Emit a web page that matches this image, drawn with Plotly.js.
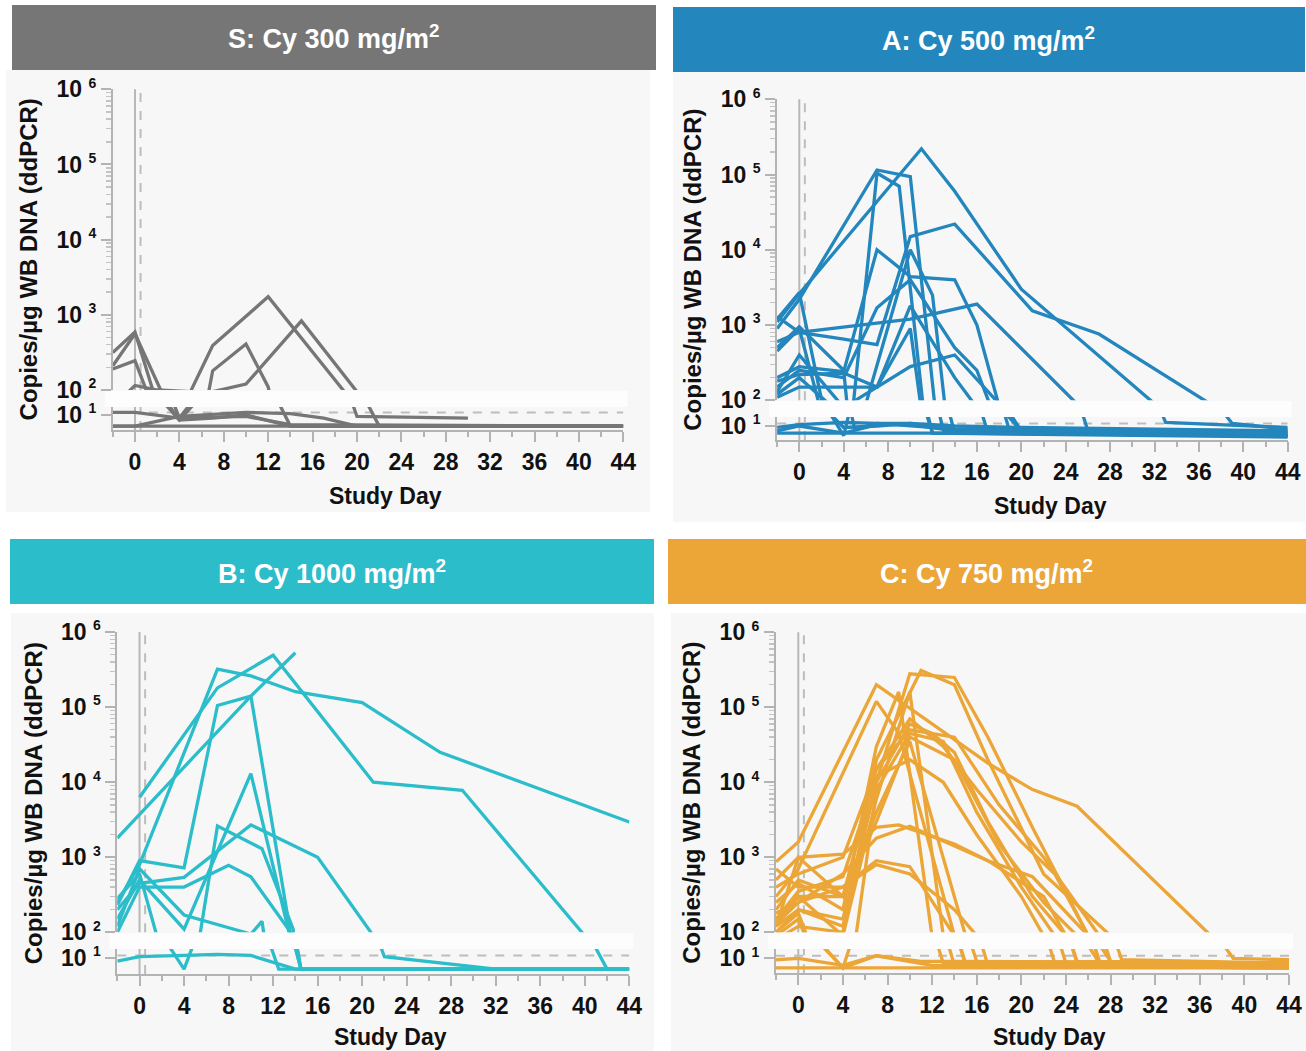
<!DOCTYPE html>
<html><head><meta charset="utf-8">
<script src="https://cdn.plot.ly/plotly-3.0.1.min.js"></script>
<style>html,body{margin:0;padding:0;background:#fff;}#chart{width:1306px;height:1051px;}</style>
</head><body><div id="chart"></div>
<script>
// ---------------- DATA ----------------
const panelTitles = ['S: Cy 300 mg/m<sup>2</sup>', 'A: Cy 500 mg/m<sup>2</sup>', 'B: Cy 1000 mg/m<sup>2</sup>', 'C: Cy 750 mg/m<sup>2</sup>'];
const panelColors = ['#767676', '#2386bd', '#2cbdcb', '#eba637'];
const xTickDays = [0, 4, 8, 12, 16, 20, 24, 28, 32, 36, 40, 44];
const upperTickVals = [100, 1000, 10000, 100000, 1000000];
const upperExps = ['2', '3', '4', '5', '6'];
const lowerTickVals = [10];
const lowerExps = ['1'];
const lloqValue = 12;
const dosingDay = 0;
const infusionDay = 0.5;
const yTitle = 'Copies/µg WB DNA (ddPCR)';
const xTitle = 'Study Day';

const S_days = [
  [-2, 0, 2, 5, 7, 12, 19, 20, 30],
  [-2, 0, 4, 7, 10, 14, 44],
  [-2, 0, 4, 6, 7, 10, 12, 14, 44],
  [-2, 0, 4, 7, 10, 15, 20, 22, 44],
  [-2, 0, 4, 8, 10, 14, 17, 20, 44],
  [-2, 44],
  [-2, 0, 3, 4, 10, 14, 44]
];
const S_vals = [
  [60, 115, 100, 95, 390, 1740, 90, 9, 8],
  [316, 590, 7, 8, 10, 4.5, 4.5],
  [12, 12, 8, 30, 180, 410, 110, 4.5, 4.5],
  [190, 245, 7, 95, 120, 830, 95, 4.5, 4.5],
  [4.5, 4.5, 9, 11, 12, 11, 8, 4.5, 4.5],
  [4.5, 4.5],
  [210, 560, 60, 8, 9, 5, 4.5]
];

const A_days = [
  [-2, 0, 11, 14, 20, 32, 33, 44],
  [-2, 0, 7, 10, 13, 44],
  [-2, 0, 4, 7, 9, 12, 44],
  [-2, 0, 4, 7, 10, 14, 16, 20, 44],
  [-2, 0, 4, 6, 10, 12, 14, 44],
  [-2, 0, 4, 7, 10, 14, 21, 27, 37, 39, 44],
  [-2, 0, 4, 7, 10, 14, 16, 20, 44],
  [-2, 0, 10, 16, 25, 26, 44],
  [-2, 0, 4, 7, 10, 14, 18, 19, 44],
  [-2, 0, 4, 7, 10, 14, 16, 17, 44],
  [-2, 0, 4, 7, 10, 12, 44],
  [-2, 0, 4, 7, 10, 14, 20, 44],
  [-2, 0, 4, 7, 10, 14, 44],
  [-2, 44],
  [-2, 0, 4, 5, 7, 10, 14, 44],
  [-2, 0, 3, 4, 7, 10, 14, 44]
];
const A_vals = [
  [1100, 2600, 220000, 60000, 3000, 90, 13, 9],
  [900, 2200, 115000, 94000, 7, 5],
  [450, 900, 5, 105000, 70000, 6, 4.5],
  [200, 280, 240, 10000, 4400, 4000, 1000, 7, 5],
  [120, 200, 60, 90, 10000, 2500, 6, 5],
  [1300, 800, 650, 550, 15000, 22000, 1550, 760, 90, 12, 8],
  [150, 250, 200, 1700, 4000, 500, 250, 7, 5],
  [600, 800, 1200, 1900, 90, 7, 5],
  [180, 220, 230, 150, 280, 400, 90, 6, 5],
  [110, 150, 150, 150, 1800, 200, 80, 6, 5],
  [130, 400, 80, 150, 900, 6, 5],
  [9, 11, 13, 12, 12, 10, 9, 7],
  [7, 10, 6, 11, 11, 7, 7],
  [6, 6],
  [500, 950, 250, 8, 12, 10, 8, 6],
  [1200, 2700, 20, 9, 10, 12, 8, 6]
];

const B_days = [
  [-2, 10, 14],
  [0, 7, 12, 21, 29, 40, 42],
  [-2, 0, 7, 10, 14, 20, 27, 44],
  [-2, 0, 4, 7, 10, 13.5, 14.5, 44],
  [-2, 0, 4, 10, 13.5, 14.5, 44],
  [-2, 0, 4, 7, 11, 13.8, 14.5, 44],
  [-2, 0, 4, 10, 16, 21, 22, 32, 44],
  [-2, 0, 4, 8, 10, 13.8, 14.5, 44],
  [-2, 0, 4, 10, 11, 12.5, 44],
  [-2, 0, 4, 7, 10, 14, 44]
];
const B_vals = [
  [1800, 140000, 530000],
  [6300, 180000, 490000, 10000, 7800, 90, 4.5],
  [250, 800, 320000, 260000, 160000, 115000, 25000, 2950],
  [230, 900, 720, 105000, 140000, 110, 4.5, 4.5],
  [150, 500, 110, 13000, 90, 4.5, 4.5],
  [280, 600, 4.5, 2600, 1300, 110, 4.5, 4.5],
  [200, 450, 540, 2700, 1000, 90, 11, 4.5, 4.5],
  [100, 400, 400, 780, 550, 90, 4.5, 4.5],
  [120, 700, 170, 95, 140, 4.5, 4.5],
  [8, 11, 12, 13, 12, 4.5, 4.5]
];

const C_days = [
  [-2, 0, 7, 17, 21, 25, 37, 39, 44],
  [-2, 0, 7, 9, 14, 15, 44],
  [-2, 0, 4, 7, 10, 14, 17, 21, 26, 27, 44],
  [-2, 0, 4, 7, 11, 14, 17, 22, 28, 29, 44],
  [-2, 0, 4, 7, 10, 13, 14, 44],
  [-2, 0, 4, 7, 10, 12, 14, 17, 21, 24, 25, 44],
  [-2, 0, 4, 7, 10, 13, 16, 20, 23, 24, 44],
  [-2, 0, 4, 7, 10, 14, 18, 22, 25, 27, 44],
  [-2, 0, 4, 7, 10, 13, 16, 20, 23, 26, 28, 44],
  [-2, 0, 4, 7, 10, 14, 15, 16, 44],
  [-2, 0, 4, 7, 10, 17, 21, 26, 27, 44],
  [-2, 0, 4, 7, 9, 14, 17, 22, 24, 25, 44],
  [-2, 0, 4, 7, 10, 14, 15, 44],
  [-2, 0, 4, 7, 11, 14, 44],
  [-2, 0, 4, 7, 12, 44],
  [-2, 44],
  [-2, 0, 4, 7, 9, 12, 13, 44],
  [-2, 0, 4, 7, 10, 14, 18, 22, 27, 28, 44],
  [-2, 0, 4, 7, 10, 14, 16, 17, 44],
  [-2, 0, 4, 7, 10, 13, 16, 20, 22, 23, 44]
];
const C_vals = [
  [870, 1600, 200000, 18000, 8000, 4800, 90, 10, 9],
  [300, 700, 120000, 45000, 90, 6, 5],
  [120, 200, 150, 10000, 280000, 250000, 40000, 2500, 90, 8, 7],
  [80, 120, 100, 20000, 310000, 200000, 20000, 600, 90, 9, 7],
  [150, 300, 90, 6000, 160000, 90, 6, 5],
  [100, 200, 120, 10000, 60000, 45000, 25000, 3000, 300, 90, 7, 6],
  [90, 150, 5, 8000, 45000, 35000, 4000, 400, 90, 7, 6],
  [200, 500, 300, 3000, 40000, 20000, 1500, 250, 90, 7, 6],
  [400, 600, 1000, 15000, 70000, 30000, 8000, 1600, 600, 90, 8, 7],
  [120, 1000, 300, 4000, 35000, 300, 90, 8, 7],
  [180, 250, 600, 1800, 2600, 900, 550, 90, 8, 7],
  [500, 1000, 1100, 2500, 2700, 1500, 900, 300, 90, 8, 7],
  [130, 250, 400, 900, 750, 90, 7, 6],
  [100, 180, 5, 12, 8, 8, 7],
  [9, 10, 6, 12, 6, 6],
  [5, 5],
  [250, 450, 200, 30000, 160000, 90, 7, 6],
  [130, 300, 300, 15000, 50000, 40000, 5000, 1000, 90, 8, 7],
  [700, 400, 400, 800, 600, 200, 90, 6, 5],
  [150, 350, 550, 12000, 20000, 10000, 2000, 300, 90, 7, 6]
];

const panelDays = [S_days, A_days, B_days, C_days];
const panelVals = [S_vals, A_vals, B_vals, C_vals];

// ---------------- LAYOUT GEOMETRY (pixels) ----------------
const W = 1306, H = 1051;
const geo = [
  {xL: 112.8, xR: 623.3, upTop: 89.3, upBot: 390, lowTop: 407, lowBot: 430, tenOff: 15, xtY: 496, bg: [6, 70, 650, 512], hd: [12, 5, 656, 70]},
  {xL: 777.1, xR: 1287.7, upTop: 99.3, upBot: 400.3, lowTop: 417, lowBot: 440, tenOff: 14, xtY: 506, bg: [673, 72, 1305, 522], hd: [673, 7, 1305, 72]},
  {xL: 117.3, xR: 629.3, upTop: 632, upBot: 932.3, lowTop: 949, lowBot: 974, tenOff: 16, xtY: 1037, bg: [11, 613, 654, 1051], hd: [10, 539, 654, 604]},
  {xL: 776, xR: 1289, upTop: 632.3, upBot: 932.3, lowTop: 949, lowBot: 973.3, tenOff: 15, xtY: 1037, bg: [671, 613, 1306, 1051], hd: [668, 539, 1306, 604]}
];
const px = v => v / W;
const py = v => 1 - v / H;
const FONT = 'Arial, "Liberation Sans", sans-serif';
const axisGray = '#b3b3b3';
const expLabel = e => '10 <sup><span style="font-size:14px">' + e + '</span></sup>';

const minorVals = [];
for (let e = 2; e < 6; e++) for (let k = 2; k <= 9; k++) minorVals.push(k * Math.pow(10, e));

const traces = [];
const shapes = [];
const annotations = [];
const layout = {
  width: W, height: H, autosize: false,
  margin: {l: 0, r: 0, t: 0, b: 0, pad: 0},
  paper_bgcolor: '#ffffff', plot_bgcolor: 'rgba(0,0,0,0)',
  showlegend: false, hovermode: false,
  font: {family: FONT, color: '#111111'}
};

geo.forEach((g, i) => {
  const xName = i === 0 ? 'x' : 'x' + (i + 1);
  const yUp = 'y' + (2 * i + 1 === 1 ? '' : 2 * i + 1);
  const yLo = 'y' + (2 * i + 2);
  const xKey = i === 0 ? 'xaxis' : 'xaxis' + (i + 1);
  const yUpKey = 2 * i + 1 === 1 ? 'yaxis' : 'yaxis' + (2 * i + 1);
  const yLoKey = 'yaxis' + (2 * i + 2);
  const color = panelColors[i];

  shapes.push({type: 'rect', xref: 'paper', yref: 'paper', layer: 'below',
    x0: px(g.bg[0]), x1: px(g.bg[2]), y0: py(g.bg[3]), y1: py(g.bg[1]),
    fillcolor: '#f7f7f7', line: {width: 0}});
  shapes.push({type: 'rect', xref: 'paper', yref: 'paper', layer: 'below',
    x0: px(g.hd[0]), x1: px(g.hd[2]), y0: py(g.hd[3]), y1: py(g.hd[1]),
    fillcolor: color, line: {width: 0}});
  shapes.push({type: 'rect', xref: 'paper', yref: 'paper', layer: 'below',
    x0: px(g.xL - 8), x1: px(g.xR + 4), y0: py(g.lowTop), y1: py(g.upBot + 1),
    fillcolor: '#fdfdfd', line: {width: 0}});

  [yUp, yLo].forEach(ya => {
    shapes.push({type: 'line', xref: xName, yref: ya + ' domain', layer: 'below',
      x0: dosingDay, x1: dosingDay, y0: 0, y1: 1, line: {color: '#b8b8b8', width: 2}});
    shapes.push({type: 'line', xref: xName, yref: ya + ' domain', layer: 'below',
      x0: infusionDay, x1: infusionDay, y0: 0, y1: 1, line: {color: '#bdbdbd', width: 2, dash: 'dash'}});
  });

  traces.push({x: [-2, 44], y: [lloqValue, lloqValue], xaxis: xName, yaxis: yLo, mode: 'lines',
    line: {color: '#bdbdbd', width: 2, dash: 'dash'}, hoverinfo: 'skip'});

  const days = panelDays[i], vals = panelVals[i];
  days.forEach((d, k) => {
    [yUp, yLo].forEach(ya => {
      traces.push({x: d, y: vals[k], xaxis: xName, yaxis: ya, mode: 'lines',
        line: {color: color, width: 3.3}, hoverinfo: 'skip'});
    });
  });

  const lo = 1 - g.tenOff / 32;
  const hi = lo + (g.lowBot - g.lowTop) / 32;
  const tf = {family: FONT, size: 23, color: '#111111', weight: 700};

  layout[xKey] = {
    domain: [px(g.xL), px(g.xR)], anchor: yLo, range: [-2, 44],
    showline: true, linecolor: axisGray, linewidth: 2,
    ticks: 'outside', ticklen: 10, tickwidth: 2, tickcolor: axisGray,
    tickmode: 'array', tickvals: xTickDays, ticktext: xTickDays.map(String),
    ticklabelstandoff: 0,
    tickfont: tf,
    minor: {dtick: 2, tick0: 0, ticks: 'outside', ticklen: 5, tickwidth: 2, tickcolor: axisGray, showgrid: false},
    showgrid: false, zeroline: false, fixedrange: true
  };
  layout[yUpKey] = {
    domain: [py(g.upBot), py(g.upTop)], anchor: xName, type: 'log', range: [2, 6],
    showline: true, linecolor: axisGray, linewidth: 2,
    ticks: 'outside', ticklen: 10, tickwidth: 2, tickcolor: axisGray,
    tickmode: 'array', tickvals: upperTickVals, ticktext: upperExps.map(expLabel),
    tickfont: tf,
    minor: {tickmode: 'array', tickvals: minorVals, ticks: 'outside', ticklen: 5, tickwidth: 1.5, tickcolor: '#c4c4c4', showgrid: false},
    showgrid: false, zeroline: false, fixedrange: true
  };
  layout[yLoKey] = {
    domain: [py(g.lowBot), py(g.lowTop)], anchor: xName, type: 'log', range: [lo, hi],
    showline: true, linecolor: axisGray, linewidth: 2,
    ticks: 'outside', ticklen: 10, tickwidth: 2, tickcolor: axisGray,
    tickmode: 'array', tickvals: lowerTickVals, ticktext: lowerExps.map(expLabel),
    tickfont: tf,
    showgrid: false, zeroline: false, fixedrange: true
  };

  annotations.push({xref: 'paper', yref: 'paper', x: px((g.hd[0] + g.hd[2]) / 2), y: py((g.hd[1] + g.hd[3]) / 2),
    text: panelTitles[i], showarrow: false, xanchor: 'center', yanchor: 'middle',
    font: {family: FONT, size: 27, color: '#ffffff', weight: 700}});
  annotations.push({xref: 'paper', yref: 'paper', x: px(g.xL - 84), y: py((g.upTop + g.lowBot) / 2),
    text: yTitle, textangle: -90, showarrow: false, xanchor: 'center', yanchor: 'middle',
    font: {family: FONT, size: 24, color: '#111111', weight: 700}});
  annotations.push({xref: 'paper', yref: 'paper', x: px(g.xL + 273), y: py(g.xtY),
    text: xTitle, showarrow: false, xanchor: 'center', yanchor: 'middle',
    font: {family: FONT, size: 23, color: '#111111', weight: 700}});
});

layout.shapes = shapes;
layout.annotations = annotations;

Plotly.newPlot('chart', traces, layout, {displayModeBar: false, staticPlot: true});
</script>
</body></html>
